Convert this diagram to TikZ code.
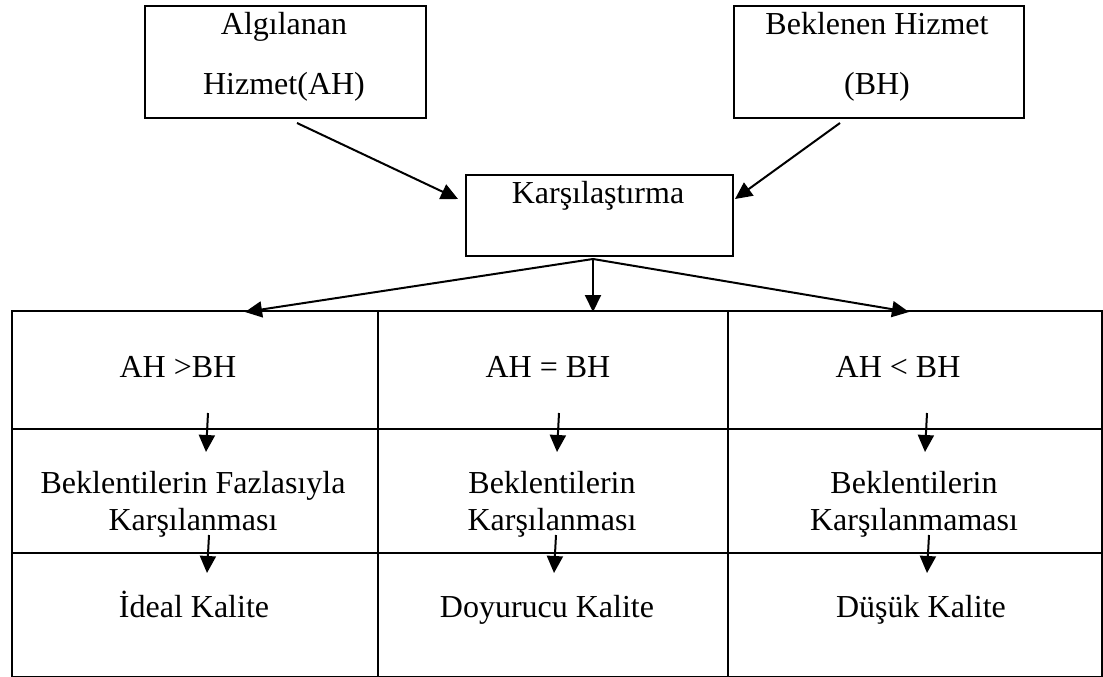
\documentclass[tikz,border=0pt]{standalone}
\usepackage{fontspec}
\setmainfont{Liberation Serif}
\usetikzlibrary{arrows.meta}
\tikzset{
  box/.style={draw, line width=2pt, inner sep=0pt, anchor=north west},
  txt/.style={anchor=base, inner sep=0pt, font=\fontsize{32}{38}\selectfont},
  arr/.style={line width=2pt, -{Triangle[length=17pt,width=16pt]}},
}
\begin{document}
\begin{tikzpicture}[x=1pt,y=-1pt]
\useasboundingbox (0,0) rectangle (1103,677);
% top boxes
\node[box, minimum width=281pt, minimum height=112pt] (ah) at (144,5) {};
\node[txt] (ah1) at (284,35) {Algılanan};
\node[txt] (ah2) at (284,95) {Hizmet(AH)};
\node[box, minimum width=290pt, minimum height=112pt] (bh) at (733,5) {};
\node[txt] (bh1) at (877,35) {Beklenen Hizmet};
\node[txt] (bh2) at (877,95) {(BH)};
\node[box, minimum width=267pt, minimum height=81pt] (kar) at (465,174) {};
\node[txt] (kar1) at (598,203) {Karşılaştırma};
% grid cells
\node[box, minimum width=366pt, minimum height=118pt] (c11) at (11,310) {};
\node[box, minimum width=350pt, minimum height=118pt] (c12) at (377,310) {};
\node[box, minimum width=374pt, minimum height=118pt] (c13) at (727,310) {};
\node[box, minimum width=366pt, minimum height=124pt] (c21) at (11,428) {};
\node[box, minimum width=350pt, minimum height=124pt] (c22) at (377,428) {};
\node[box, minimum width=374pt, minimum height=124pt] (c23) at (727,428) {};
\node[box, minimum width=366pt, minimum height=124pt] (c31) at (11,552) {};
\node[box, minimum width=350pt, minimum height=124pt] (c32) at (377,552) {};
\node[box, minimum width=374pt, minimum height=124pt] (c33) at (727,552) {};
% texts
\node[txt] (t11) at (178,377) {AH >BH};
\node[txt] (t12) at (548,377) {AH = BH};
\node[txt] (t13) at (898,377) {AH < BH};
\node[txt] (t21a) at (193,493) {Beklentilerin Fazlasıyla};
\node[txt] (t21b) at (193,530) {Karşılanması};
\node[txt] (t22a) at (552,493) {Beklentilerin};
\node[txt] (t22b) at (552,530) {Karşılanması};
\node[txt] (t23a) at (914,493) {Beklentilerin};
\node[txt] (t23b) at (914,530) {Karşılanmaması};
\node[txt] (t31) at (194,617) {İdeal Kalite};
\node[txt] (t32) at (547,617) {Doyurucu Kalite};
\node[txt] (t33) at (921,617) {Düşük Kalite};
% arrow coordinates
\coordinate (a1s) at (297,123);
\coordinate (a1e) at (458,199);
\coordinate (a2s) at (840,123);
\coordinate (a2e) at (735,199);
\coordinate (fan) at (593,259);
\coordinate (f1) at (245,312);
\coordinate (f2) at (593,312);
\coordinate (f3) at (909,312);
\draw[arr] (a1s) -- (a1e);
\draw[arr] (a2s) -- (a2e);
\draw[arr] (fan) -- (f1);
\draw[arr] (fan) -- (f2);
\draw[arr] (fan) -- (f3);
% small arrows
\coordinate (u1s) at (208,413); \coordinate (u1e) at (206,452);
\coordinate (l1s) at (209,535); \coordinate (l1e) at (207,573);
\coordinate (u2s) at (559,413); \coordinate (u2e) at (557,452);
\coordinate (l2s) at (556,535); \coordinate (l2e) at (554,573);
\coordinate (u3s) at (927,413); \coordinate (u3e) at (925,452);
\coordinate (l3s) at (929,535); \coordinate (l3e) at (927,573);
\draw[arr] (u1s) -- (u1e);
\draw[arr] (l1s) -- (l1e);
\draw[arr] (u2s) -- (u2e);
\draw[arr] (l2s) -- (l2e);
\draw[arr] (u3s) -- (u3e);
\draw[arr] (l3s) -- (l3e);
\end{tikzpicture}
\end{document}
